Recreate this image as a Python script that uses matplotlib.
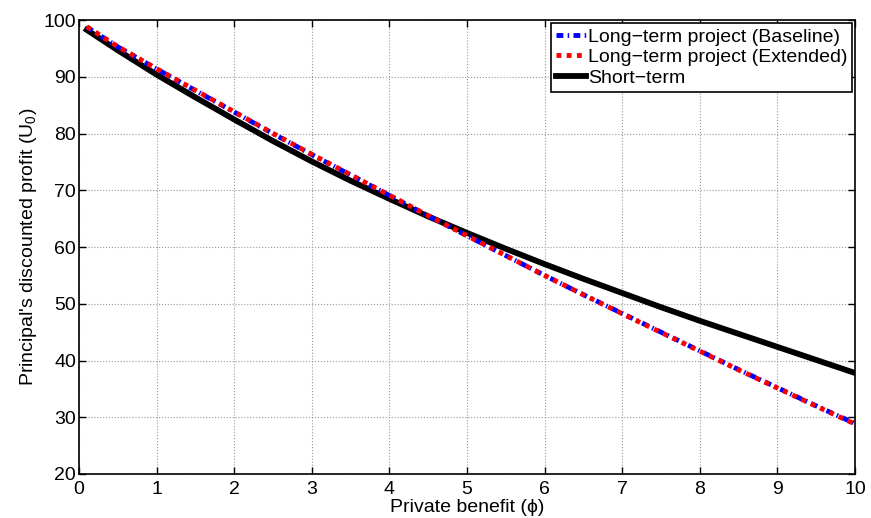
import matplotlib
matplotlib.use("Agg")
import matplotlib.pyplot as plt
import numpy as np

plt.rcParams['font.family'] = ['Liberation Sans', 'DejaVu Sans']
plt.rcParams['mathtext.fontset'] = 'custom'
plt.rcParams['mathtext.rm'] = 'Liberation Sans'
plt.rcParams['mathtext.it'] = 'Liberation Sans'

# valores
phi = [0.1, 0.5, 1, 1.5, 2, 2.5, 3, 3.5, 4, 4.5, 5, 5.5, 6, 6.5, 7, 7.5, 8, 8.5, 9, 9.5, 10]
largo_base = [98.8, 95.3, 91.4, 87.6, 83.8, 80.0, 76.3, 72.7, 69.1, 65.5, 62.0, 58.5, 55.0, 51.6, 48.3, 45.0, 41.7, 38.4, 35.2, 32.0, 28.9]
largo_ext = [98.85, 95.35, 91.45, 87.65, 83.85, 80.05, 76.35, 72.75, 69.15, 65.55, 62.0, 58.5, 55.0, 51.6, 48.25, 44.95, 41.65, 38.35, 35.15, 31.95, 28.8]
corto = [98.3, 94.7, 90.4, 86.4, 82.5, 78.7, 75.1, 71.7, 68.5, 65.4, 62.5, 59.7, 57.0, 54.4, 51.9, 49.4, 47.0, 44.7, 42.4, 40.1, 37.8]

fig = plt.figure(figsize=(8.71, 5.18), dpi=100)
ax = fig.add_axes([0.0907, 0.085, 0.891, 0.876])

ax.plot(phi, corto, color='black', linestyle='-', linewidth=4.2, label='Short\u2212term', zorder=2)
ax.plot(phi, largo_base, color='blue', linestyle=(0, (1.4, 0.9, 0.3, 0.9)), linewidth=3.5,
        label='Long\u2212term project (Baseline)', zorder=3)
ax.plot(phi, largo_ext, color='red', linestyle=(0, (1, 1.1)), linewidth=3.5,
        label='Long\u2212term project (Extended)', zorder=4)

ax.set_xlim(0, 10)
ax.set_ylim(20, 100)
ax.set_xticks(np.arange(0, 11, 1))
ax.set_yticks(np.arange(20, 101, 10))
ax.tick_params(direction='in', top=True, right=True, labelsize=14, length=5, width=1)
ax.tick_params(axis='x', pad=5)
ax.tick_params(axis='y', pad=2)
ax.grid(True, linestyle=':', color='#999999', linewidth=0.8)
for s in ax.spines.values():
    s.set_linewidth(1.2)

ax.set_xlabel('Private benefit (\u03d5)', fontsize=14, labelpad=1)
ax.set_ylabel("Principal's discounted profit (U$_0$)", fontsize=14, labelpad=3)

# orden de la leyenda como en la original
h, l = ax.get_legend_handles_labels()
orden = [1, 2, 0]
leg = ax.legend([h[i] for i in orden], [l[i] for i in orden], loc='upper right', fontsize=14,
                handlelength=1.55, handletextpad=0.1, borderpad=0.25, labelspacing=0.15,
                borderaxespad=0.15, fancybox=False, framealpha=1)
leg.get_frame().set_edgecolor('black')
leg.get_frame().set_linewidth(1.2)

fig.savefig('out.png', dpi=100)
